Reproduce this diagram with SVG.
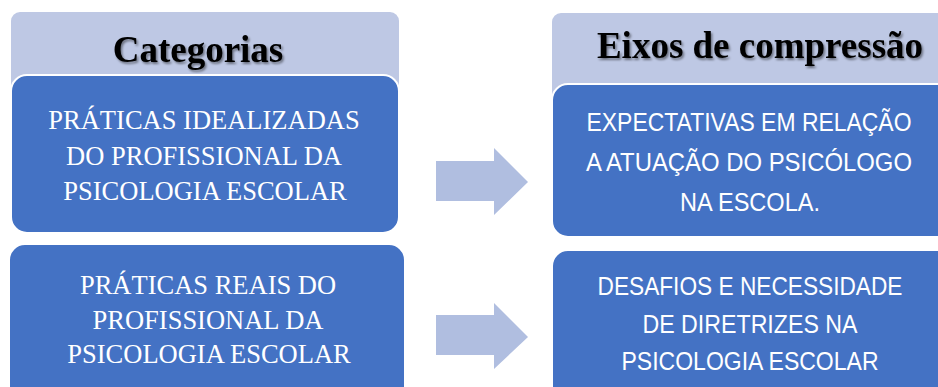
<svg xmlns="http://www.w3.org/2000/svg" width="938" height="387" viewBox="0 0 938 387">
<style>
.hdr{fill:#BEC8E4}
.box{fill:#4472C4;stroke:#FFFFFF;stroke-width:2}
.arrow{fill:#B0BEE0}
.ttl{font-family:"Liberation Serif","Times New Roman",serif;font-weight:bold;font-size:37px;fill:#000000;text-anchor:middle;filter:url(#sh)}
.serif{font-family:"Liberation Serif","Times New Roman",serif;font-size:26.5px;fill:#FFFFFF;text-anchor:middle}
.sans{font-family:"Liberation Sans",Arial,sans-serif;font-size:25px;fill:#FFFFFF;text-anchor:middle}
</style>
<defs>
<filter id="sh" x="-10%" y="-30%" width="120%" height="160%">
<feDropShadow dx="1.5" dy="2" stdDeviation="1.2" flood-color="#000000" flood-opacity="0.45"/>
</filter>
</defs>
<rect width="938" height="387" fill="#FFFFFF"/>
<g id="header-categorias">
<rect class="hdr" x="11" y="12" width="388" height="150" rx="9"/>
<text class="ttl" x="198" y="62">Categorias</text>
</g>
<g id="header-eixos">
<rect class="hdr" x="552" y="13" width="400" height="150" rx="9"/>
<text class="ttl" x="760" y="58">Eixos de compressão</text>
</g>
<g id="cat-idealizadas">
<rect class="box" x="11" y="75" width="388" height="158" rx="16"/>
<text class="serif" x="204" y="129">PRÁTICAS IDEALIZADAS</text>
<text class="serif" x="204" y="165">DO PROFISSIONAL DA</text>
<text class="serif" x="205" y="200">PSICOLOGIA ESCOLAR</text>
</g>
<g id="cat-reais">
<rect class="box" x="9" y="244" width="396" height="160" rx="16"/>
<text class="serif" x="208" y="294">PRÁTICAS REAIS DO</text>
<text class="serif" x="208" y="329">PROFISSIONAL DA</text>
<text class="serif" x="209" y="363">PSICOLOGIA ESCOLAR</text>
</g>
<g id="eixo-expectativas">
<rect class="box" x="552" y="84" width="400" height="153" rx="16"/>
<text class="sans" x="749" y="131" textLength="325" lengthAdjust="spacingAndGlyphs">EXPECTATIVAS EM RELAÇÃO</text>
<text class="sans" x="749" y="171" textLength="326" lengthAdjust="spacingAndGlyphs">A ATUAÇÃO DO PSICÓLOGO</text>
<text class="sans" x="750" y="211" textLength="140" lengthAdjust="spacingAndGlyphs">NA ESCOLA.</text>
</g>
<g id="eixo-desafios">
<rect class="box" x="552" y="250" width="400" height="160" rx="16"/>
<text class="sans" x="750" y="295" textLength="305" lengthAdjust="spacingAndGlyphs">DESAFIOS E NECESSIDADE</text>
<text class="sans" x="750" y="333" textLength="215" lengthAdjust="spacingAndGlyphs">DE DIRETRIZES NA</text>
<text class="sans" x="750" y="370" textLength="257" lengthAdjust="spacingAndGlyphs">PSICOLOGIA ESCOLAR</text>
</g>
<g id="connectors">
<polygon class="arrow" points="436,161 494,161 494,148 528,182 494,215 494,201 436,201"/>
<polygon class="arrow" points="436,315 494,315 494,303 528,337 494,369 494,355 436,355"/>
</g>
</svg>
